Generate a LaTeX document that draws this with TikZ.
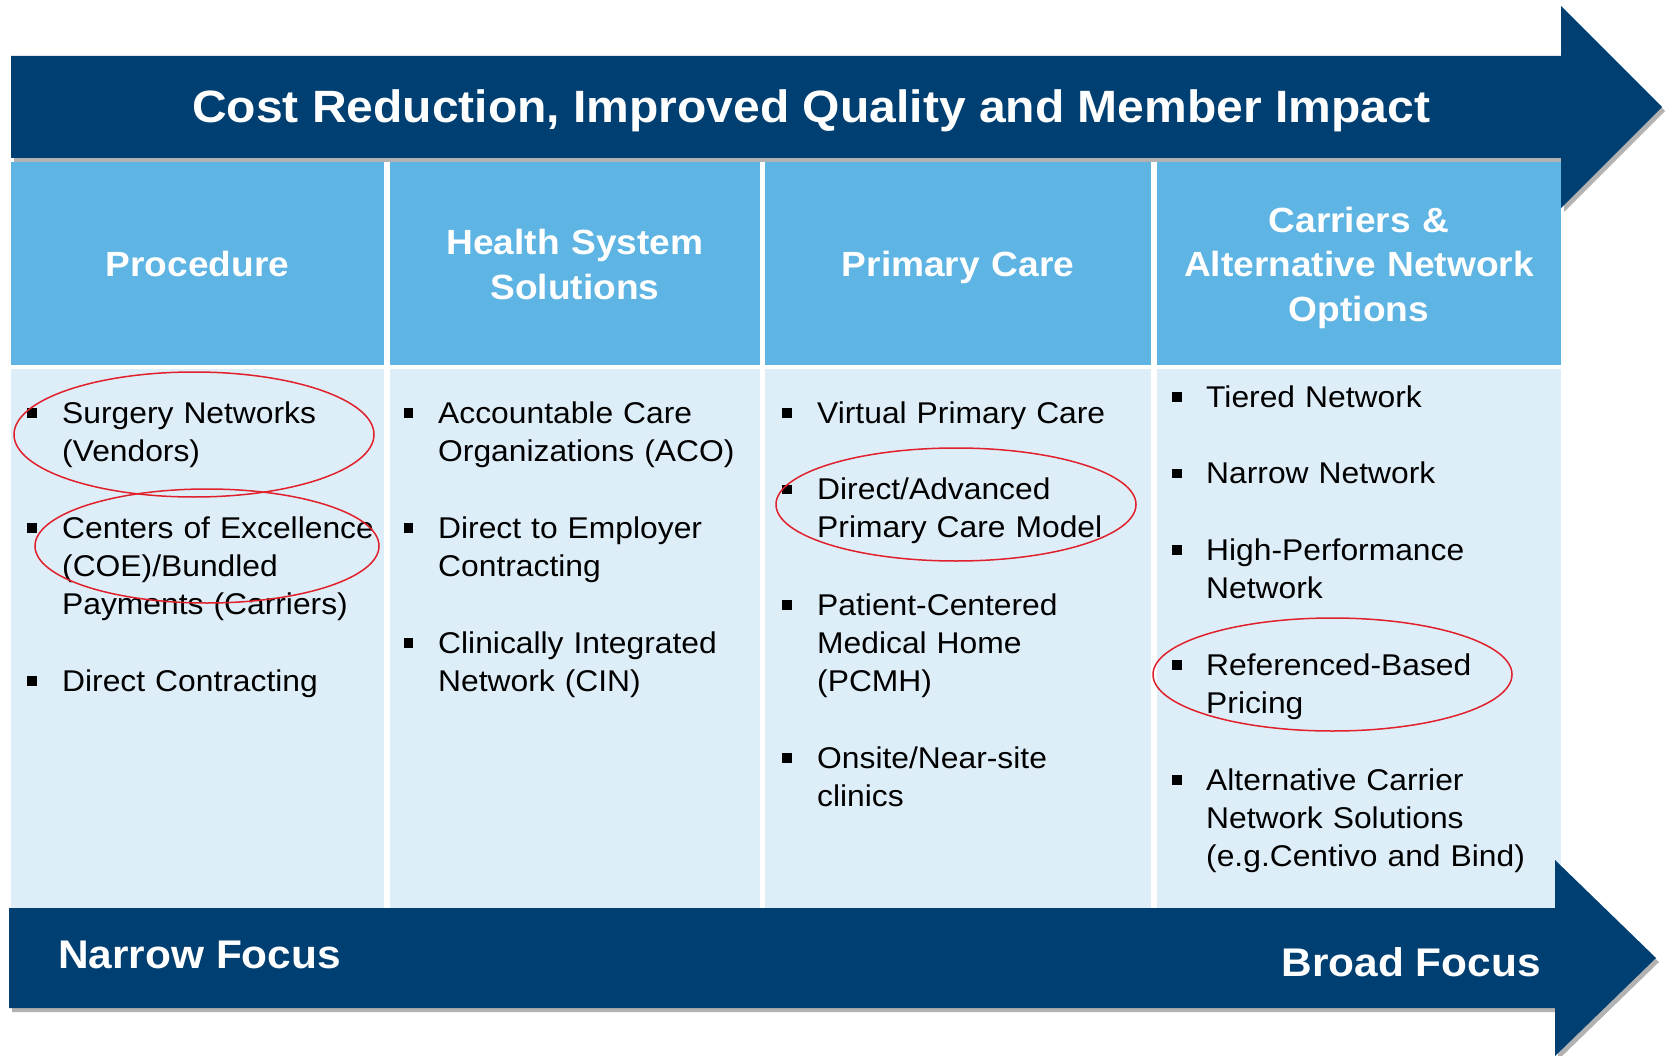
\documentclass[tikz,border=0pt]{standalone}
\usepackage{fontspec}
\setmainfont[FakeStretch=1.06]{Liberation Sans}
\usetikzlibrary{shadows}
\definecolor{navy}{RGB}{0,63,114}
\definecolor{hdrblue}{RGB}{94,180,227}
\definecolor{cellblue}{RGB}{222,238,249}
\definecolor{ovalred}{RGB}{224,32,42}
\begin{document}
\begin{tikzpicture}[x=1pt,y=-1pt,
  band/.style={fill=navy, drop shadow={shadow xshift=3pt, shadow yshift=-4pt, fill=black, opacity=0.3}},
  hdrcell/.style={fill=hdrblue},
  bodycell/.style={fill=cellblue},
  hdrtext/.style={text=white, font=\bfseries\fontsize{35}{44.5}\selectfont, align=center, text width=380pt, inner sep=0pt, anchor=base},
  itemtext/.style={font=\fontsize{30}{38.3}\selectfont, align=left, text width=400pt, inner sep=0pt, anchor=base west},
  bulletsq/.style={fill=black, minimum size=9.5pt, inner sep=0pt},
  oval/.style={draw=ovalred, line width=1.5pt},
  bandtext/.style={text=white, font=\bfseries\fontsize{40}{46}\selectfont, inner sep=0pt}
]
\useasboundingbox (0,0) rectangle (1669,1056);
\fill[white] (0,0) rectangle (1669,1056);

% header cells
\fill[hdrcell] (11,162) rectangle (384,365);
\fill[hdrcell] (390,162) rectangle (760,365);
\fill[hdrcell] (765,162) rectangle (1151,365);
\fill[hdrcell] (1157,162) rectangle (1561,365);
% body cells
\fill[bodycell] (11,369) rectangle (384,912);
\fill[bodycell] (390,369) rectangle (760,912);
\fill[bodycell] (765,369) rectangle (1151,912);
\fill[bodycell] (1157,369) rectangle (1561,912);

% top arrow
\path[band] (11,56) -- (1561,56) -- (1561,6) -- (1662,107) -- (1561,208) -- (1561,158) -- (11,158) -- cycle;
% bottom arrow
\path[band] (9,908) -- (1555,908) -- (1555,860) -- (1656,958) -- (1555,1056) -- (1555,1008) -- (9,1008) -- cycle;

\node[bandtext, font=\bfseries\fontsize{45.3}{50}\selectfont, anchor=base] (title) at (811,123) {Cost Reduction, Improved Quality and Member Impact};
\node[bandtext, anchor=base west] (narrow) at (58,968) {Narrow Focus};
\node[bandtext, anchor=base east] (broad) at (1541,976) {Broad Focus};

% headers
\node[hdrtext] (h1) at (197.5,277) {Procedure};
\node[hdrtext] (h2) at (575,255) {Health System\\Solutions};
\node[hdrtext] (h3) at (958,277) {Primary Care};
\node[hdrtext] (h4) at (1359,232.5) {Carriers \&\\Alternative Network\\Options};

% column 1
\node[bulletsq] (b11) at (32,413) {};
\node[itemtext] (t11) at (62,423) {Surgery Networks\\(Vendors)};
\node[bulletsq] (b12) at (32,528) {};
\node[itemtext] (t12) at (62,538) {Centers of Excellence\\(COE)/Bundled\\Payments (Carriers)};
\node[bulletsq] (b13) at (32,681) {};
\node[itemtext] (t13) at (62,691) {Direct Contracting};

% column 2
\node[bulletsq] (b21) at (408.5,413) {};
\node[itemtext] (t21) at (438,423) {Accountable Care\\Organizations (ACO)};
\node[bulletsq] (b22) at (408.5,528) {};
\node[itemtext] (t22) at (438,538) {Direct to Employer\\Contracting};
\node[bulletsq] (b23) at (408.5,643) {};
\node[itemtext] (t23) at (438,653) {Clinically Integrated\\Network (CIN)};

% column 3
\node[bulletsq] (b31) at (787,413) {};
\node[itemtext] (t31) at (817,423) {Virtual Primary Care};
\node[bulletsq] (b32) at (787,489.6) {};
\node[itemtext] (t32) at (817,499.6) {Direct/Advanced\\Primary Care Model};
\node[bulletsq] (b33) at (787,605) {};
\node[itemtext] (t33) at (817,615) {Patient-Centered\\Medical Home\\(PCMH)};
\node[bulletsq] (b34) at (787,758) {};
\node[itemtext] (t34) at (817,768) {Onsite/Near-site\\clinics};

% column 4
\node[bulletsq] (b41) at (1177,397) {};
\node[itemtext] (t41) at (1206,407) {Tiered Network};
\node[bulletsq] (b42) at (1177,473.6) {};
\node[itemtext] (t42) at (1206,483.6) {Narrow Network};
\node[bulletsq] (b43) at (1177,550) {};
\node[itemtext] (t43) at (1206,560) {High-Performance\\Network};
\node[bulletsq] (b44) at (1177,665) {};
\node[itemtext] (t44) at (1206,675) {Referenced-Based\\Pricing};
\node[bulletsq] (b45) at (1177,780) {};
\node[itemtext] (t45) at (1206,790) {Alternative Carrier\\Network Solutions\\(e.g.Centivo and Bind)};

% red ovals
\draw[oval] (194,434.5) ellipse [x radius=180, y radius=62.5];
\draw[oval] (207,546) ellipse [x radius=172, y radius=57];
\draw[oval] (956,504.5) ellipse [x radius=180, y radius=56.5];
\draw[oval] (1332.5,674.5) ellipse [x radius=179.5, y radius=56.5];
\end{tikzpicture}
\end{document}
